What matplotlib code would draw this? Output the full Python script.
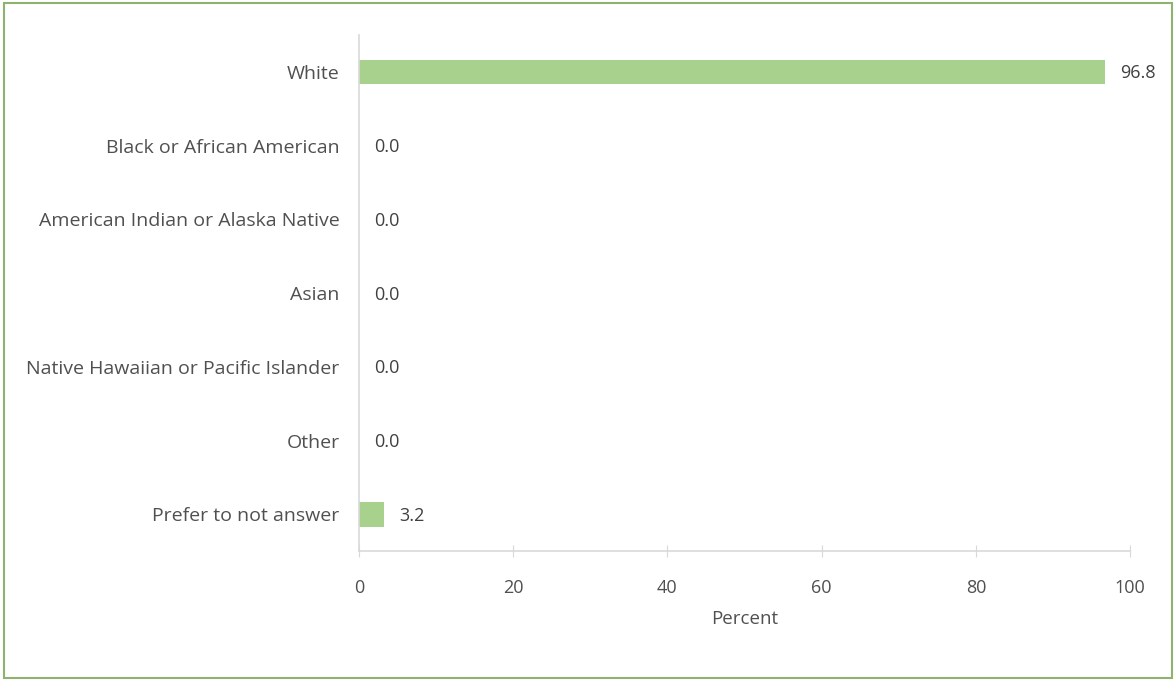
import matplotlib.pyplot as plt
from matplotlib.patches import Rectangle

categories = ["White", "Black or African American", "American Indian or Alaska Native",
              "Asian", "Native Hawaiian or Pacific Islander", "Other", "Prefer to not answer"]
values = [96.8, 0.0, 0.0, 0.0, 0.0, 0.0, 3.2]
xticks = [0, 20, 40, 60, 80, 100]

plt.rcParams['font.family'] = ['Open Sans', 'DejaVu Sans']

fig = plt.figure(figsize=(11.76, 6.81), dpi=100)
ax = fig.add_axes([0.3053, 0.1905, 0.6556, 0.7580])

ypos = list(range(len(categories)))
ax.barh(ypos, values, height=0.33, color='#a9d18e')
for y, v in zip(ypos, values):
    ax.annotate(f"{v:.1f}", (v, y), xytext=(11, -1), textcoords='offset points',
                ha='left', va='center', fontsize=13, color='#404040')

ax.set_ylim(6.5, -0.5)
ax.set_xlim(0, 100)
ax.set_yticks(ypos)
ax.set_yticklabels(categories, fontsize=14, color='#505050')
ax.set_xticks(xticks)
ax.set_xticklabels([str(t) for t in xticks], fontsize=13, color='#505050')
ax.tick_params(axis='y', length=0, pad=14)
ax.tick_params(axis='x', direction='inout', length=8, color='#d9d9d9', pad=16)
ax.set_xlabel("Percent", fontsize=13.5, color='#505050', labelpad=9)

for s in ['top', 'right']:
    ax.spines[s].set_visible(False)
for s in ['left', 'bottom']:
    ax.spines[s].set_color('#d9d9d9')
    ax.spines[s].set_linewidth(1.2)

fig.patches.append(Rectangle((0.003, 0.004), 0.994, 0.992, transform=fig.transFigure,
                             fill=False, edgecolor='#8db36e', linewidth=1.5))

fig.savefig("out.png", dpi=100)
